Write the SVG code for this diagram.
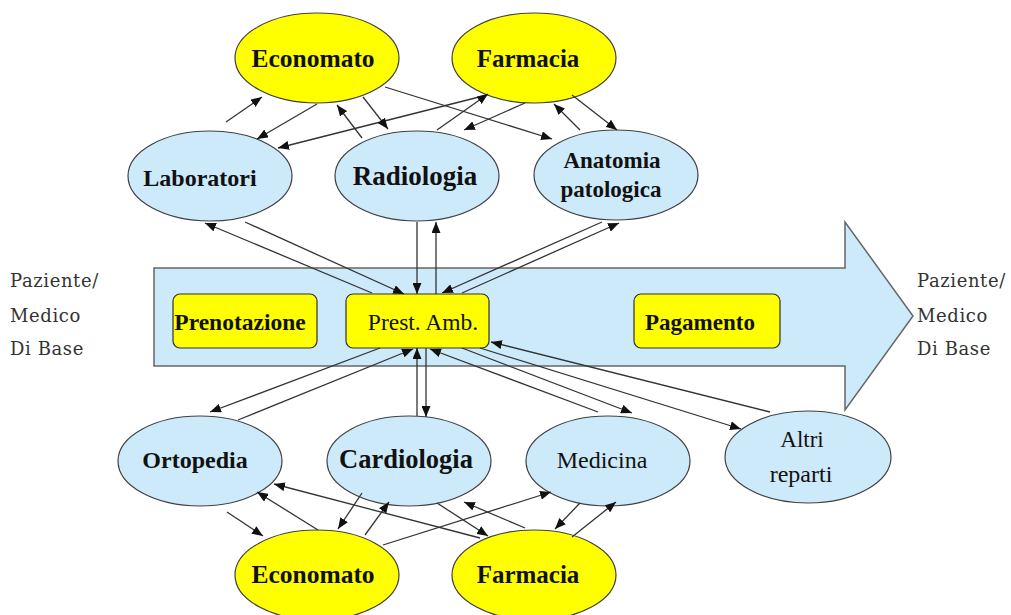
<svg xmlns="http://www.w3.org/2000/svg" width="1011" height="615" viewBox="0 0 1011 615">
  <style>
    .dept { fill: #cdeafb; stroke: #404040; stroke-width: 1.2; }
    .supply { fill: #ffff00; stroke: #404040; stroke-width: 1.2; }
    .step { fill: #ffff00; stroke: #303030; stroke-width: 1.2; }
    .lbl { font-family: "Liberation Serif", "Times New Roman", serif; fill: #111; text-anchor: middle; }
    .b { font-weight: bold; }
    .side { font-family: "DejaVu Serif", "Liberation Serif", serif; font-size: 18px; fill: #333; letter-spacing: 0.6px; }
    .link { stroke: #333; stroke-width: 1.3; fill: none; marker-end: url(#tip); }
  </style>
  <defs>
    <marker id="tip" markerUnits="userSpaceOnUse" markerWidth="11" markerHeight="9" refX="11" refY="4.5" orient="auto">
      <path d="M0,0 L11,4.5 L0,9 Z" fill="#111"/>
    </marker>
  </defs>

  <rect width="1011" height="615" fill="#ffffff"/>

  <!-- flow arrow: patient path through the outpatient service -->
  <g id="flow">
    <polygon points="154,268 845,268 845,222 913,316 845,410 845,366 154,366" fill="#cdeafb" stroke="#666" stroke-width="1.5"/>
  </g>

  <g id="side-left">
    <text class="side" x="10" y="287">Paziente/</text>
    <text class="side" x="10" y="322">Medico</text>
    <text class="side" x="10" y="355">Di Base</text>
  </g>
  <g id="side-right">
    <text class="side" x="917" y="287">Paziente/</text>
    <text class="side" x="917" y="322">Medico</text>
    <text class="side" x="917" y="355">Di Base</text>
  </g>

  <!-- supply services, top -->
  <g id="economato-top">
    <ellipse class="supply" cx="317" cy="58" rx="82" ry="45"/>
    <text class="lbl b" x="313" y="67" font-size="25.5">Economato</text>
  </g>
  <g id="farmacia-top">
    <ellipse class="supply" cx="534" cy="58" rx="82" ry="45"/>
    <text class="lbl b" x="528" y="67" font-size="25">Farmacia</text>
  </g>

  <!-- diagnostic services -->
  <g id="laboratori">
    <ellipse class="dept" cx="210" cy="176" rx="82" ry="45"/>
    <text class="lbl b" x="200" y="186" font-size="24">Laboratori</text>
  </g>
  <g id="radiologia">
    <ellipse class="dept" cx="417" cy="176" rx="82" ry="45"/>
    <text class="lbl b" x="415" y="185" font-size="27">Radiologia</text>
  </g>
  <g id="anatomia">
    <ellipse class="dept" cx="616" cy="175" rx="82" ry="45"/>
    <text class="lbl b" x="612" y="168" font-size="23">Anatomia</text>
    <text class="lbl b" x="611" y="197" font-size="23">patologica</text>
  </g>

  <!-- steps along the flow -->
  <g id="prenotazione">
    <rect class="step" x="173" y="294" width="144" height="54" rx="7"/>
    <text class="lbl b" x="240" y="330" font-size="23.5">Prenotazione</text>
  </g>
  <g id="prest-amb">
    <rect class="step" x="346" y="294" width="143" height="54" rx="7"/>
    <text class="lbl" x="423" y="330" font-size="23.5">Prest. Amb.</text>
  </g>
  <g id="pagamento">
    <rect class="step" x="634" y="294" width="146" height="54" rx="7"/>
    <text class="lbl b" x="700" y="330" font-size="23">Pagamento</text>
  </g>

  <!-- clinical wards -->
  <g id="ortopedia">
    <ellipse class="dept" cx="200" cy="461" rx="82" ry="45"/>
    <text class="lbl b" x="195" y="468" font-size="24">Ortopedia</text>
  </g>
  <g id="cardiologia">
    <ellipse class="dept" cx="409" cy="461" rx="82" ry="45"/>
    <text class="lbl b" x="406" y="468" font-size="26.5">Cardiologia</text>
  </g>
  <g id="medicina">
    <ellipse class="dept" cx="608" cy="461" rx="82" ry="45"/>
    <text class="lbl" x="602" y="468" font-size="24">Medicina</text>
  </g>
  <g id="altri-reparti">
    <ellipse class="dept" cx="808" cy="457" rx="83" ry="46"/>
    <text class="lbl" x="802" y="447" font-size="23">Altri</text>
    <text class="lbl" x="801" y="482" font-size="24">reparti</text>
  </g>

  <!-- supply services, bottom -->
  <g id="economato-bottom">
    <ellipse class="supply" cx="317" cy="575" rx="82" ry="45"/>
    <text class="lbl b" x="313" y="583" font-size="25.5">Economato</text>
  </g>
  <g id="farmacia-bottom">
    <ellipse class="supply" cx="534" cy="575" rx="82" ry="45"/>
    <text class="lbl b" x="528" y="583" font-size="25">Farmacia</text>
  </g>

  <g id="connectors">
    <!-- top supplies <-> diagnostics -->
    <line class="link" x1="226" y1="122" x2="262" y2="97"/>
    <line class="link" x1="317" y1="104" x2="257" y2="139"/>
    <line class="link" x1="487" y1="95" x2="278" y2="148"/>
    <line class="link" x1="437" y1="130" x2="488" y2="94"/>
    <line class="link" x1="362" y1="138" x2="337" y2="105"/>
    <line class="link" x1="363" y1="97" x2="388" y2="129"/>
    <line class="link" x1="385" y1="87" x2="552" y2="139"/>
    <line class="link" x1="525" y1="103" x2="464" y2="130"/>
    <line class="link" x1="580" y1="130" x2="554" y2="104"/>
    <line class="link" x1="572" y1="95" x2="617" y2="130"/>

    <!-- diagnostics <-> Prest. Amb. -->
    <line class="link" x1="372" y1="293" x2="205" y2="223"/>
    <line class="link" x1="245" y1="222" x2="404" y2="294"/>
    <line class="link" x1="417" y1="222" x2="417" y2="294"/>
    <line class="link" x1="436" y1="294" x2="436" y2="222"/>
    <line class="link" x1="602" y1="222" x2="442" y2="293"/>
    <line class="link" x1="462" y1="293" x2="619" y2="223"/>

    <!-- Prest. Amb. <-> wards -->
    <line class="link" x1="380" y1="348" x2="210" y2="412"/>
    <line class="link" x1="238" y1="420" x2="413" y2="349"/>
    <line class="link" x1="417" y1="416" x2="417" y2="348"/>
    <line class="link" x1="426" y1="348" x2="426" y2="417"/>
    <line class="link" x1="598" y1="412" x2="430" y2="349"/>
    <line class="link" x1="462" y1="348" x2="632" y2="413"/>
    <line class="link" x1="480" y1="348" x2="741" y2="429"/>
    <line class="link" x1="770" y1="412" x2="491" y2="342"/>

    <!-- wards <-> bottom supplies -->
    <line class="link" x1="227" y1="512" x2="263" y2="536"/>
    <line class="link" x1="318" y1="530" x2="257" y2="492"/>
    <line class="link" x1="480" y1="538" x2="274" y2="484"/>
    <line class="link" x1="362" y1="493" x2="338" y2="529"/>
    <line class="link" x1="365" y1="535" x2="389" y2="502"/>
    <line class="link" x1="383" y1="545" x2="551" y2="492"/>
    <line class="link" x1="437" y1="503" x2="488" y2="536"/>
    <line class="link" x1="525" y1="528" x2="464" y2="502"/>
    <line class="link" x1="580" y1="503" x2="555" y2="529"/>
    <line class="link" x1="572" y1="537" x2="616" y2="502"/>
  </g>
</svg>
